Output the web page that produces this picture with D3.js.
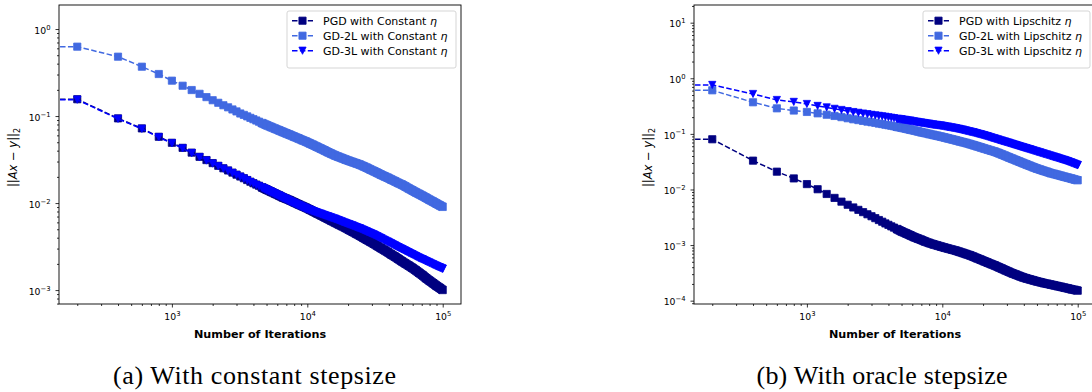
<!DOCTYPE html>
<html>
<head>
<meta charset="utf-8">
<script src="https://cdn.jsdelivr.net/npm/d3@7"></script>
<style>
  body { margin: 0; background: #fff; }
  svg { display: block; }
  text { font-family: "DejaVu Sans", sans-serif; fill: #000; }
</style>
</head>
<body>
<svg id="chart" width="1092" height="392"></svg>
<script>
// iterations (0 = starting point, pushed off to the left by the log axis)
const iterations = [0, 200, 400, 600, 800, 1000, 1200, 1400, 1600, 1800, 2000,
  2200, 2400, 2600, 2800, 3000, 3200, 3400, 3600, 3800, 4000, 4200, 4400, 4600,
  5000, 5400, 5800, 6200, 6600, 7000, 7400,
  8000, 8600, 9200, 9800, 10400, 11000,
  11800, 12600, 13400, 14200, 15000,
  16000, 17000, 18000, 19200, 20400, 21600,
  23000, 24400, 26000, 27600, 29200,
  31000, 33000, 35000, 37200, 39400, 41800, 44400, 47000, 50000,
  53000, 56200, 59600, 63200, 67000, 71000, 75400, 80000, 84800, 90000, 95000, 100000];

// (a) constant stepsize
const pgdConst = [0.2, 0.156, 0.0940, 0.0721, 0.0578, 0.0493, 0.0431, 0.0380, 0.0340, 0.0312, 0.0288,
  0.0268, 0.0251, 0.0237, 0.0224, 0.0212, 0.0202, 0.0193, 0.0184, 0.0176, 0.0169, 0.0163, 0.0158, 0.0152,
  0.0143, 0.0135, 0.0128, 0.0122, 0.0116, 0.0112, 0.0108,
  0.0102, 0.00968, 0.00923, 0.00883, 0.00843, 0.00807,
  0.00762, 0.00724, 0.00689, 0.00658, 0.00630,
  0.00598, 0.00570, 0.00545, 0.00518, 0.00491, 0.00469,
  0.00444, 0.00423, 0.00399, 0.00378, 0.00360,
  0.00341, 0.00321, 0.00304, 0.00287, 0.00272, 0.00256, 0.00242, 0.00228, 0.00214,
  0.00202, 0.00191, 0.00180, 0.00169, 0.00158, 0.00148, 0.00137, 0.00128, 0.00120, 0.00112, 0.00106, 0.00100];
const gd2lConst = [1.32, 0.627, 0.481, 0.369, 0.304, 0.255, 0.223, 0.199, 0.180, 0.165, 0.152,
  0.142, 0.133, 0.126, 0.119, 0.113, 0.107, 0.103, 0.0991, 0.0953, 0.0920, 0.0889, 0.0861, 0.0834,
  0.0787, 0.0748, 0.0714, 0.0684, 0.0656, 0.0632, 0.0610,
  0.0579, 0.0553, 0.0528, 0.0508, 0.0486, 0.0467,
  0.0443, 0.0422, 0.0403, 0.0385, 0.0370,
  0.0353, 0.0340, 0.0329, 0.0316, 0.0305, 0.0296,
  0.0286, 0.0277, 0.0265, 0.0254, 0.0243,
  0.0233, 0.0222, 0.0212, 0.0203, 0.0195, 0.0186, 0.0178, 0.0170, 0.0163,
  0.0155, 0.0147, 0.0140, 0.0133, 0.0127, 0.0121, 0.0115, 0.0109, 0.0104, 0.00986, 0.00942, 0.00902];
const gd3lConst = [0.2, 0.154, 0.0928, 0.0712, 0.0570, 0.0486, 0.0425, 0.0375, 0.0336, 0.0308, 0.0284,
  0.0265, 0.0248, 0.0234, 0.0221, 0.0210, 0.0200, 0.0191, 0.0182, 0.0174, 0.0167, 0.0161, 0.0156, 0.0151,
  0.0142, 0.0134, 0.0127, 0.0121, 0.0115, 0.0110, 0.0105,
  0.00995, 0.00946, 0.00902, 0.00863, 0.00834, 0.00807,
  0.00776, 0.00750, 0.00724, 0.00702, 0.00681,
  0.00658, 0.00634, 0.00612, 0.00589, 0.00568, 0.00550,
  0.00528, 0.00511, 0.00489, 0.00469, 0.00451,
  0.00433, 0.00412, 0.00394, 0.00374, 0.00358, 0.00341, 0.00325, 0.00310, 0.00296,
  0.00282, 0.00269, 0.00257, 0.00245, 0.00234, 0.00225, 0.00215, 0.00206, 0.00197, 0.00189, 0.00182, 0.00176];

// (b) oracle (Lipschitz) stepsize
const pgdLip = [0.09, 0.0800, 0.0330, 0.0209, 0.0158, 0.0125, 0.0101, 0.00830, 0.00705, 0.00604, 0.00531,
  0.00475, 0.00430, 0.00391, 0.00358, 0.00330, 0.00305, 0.00282, 0.00263, 0.00245, 0.00231, 0.00217, 0.00206, 0.00195,
  0.00176, 0.00162, 0.00150, 0.00139, 0.00131, 0.00124, 0.00117,
  0.00109, 0.00103, 0.000982, 0.000938, 0.000900, 0.000867,
  0.000828, 0.000794, 0.000755, 0.000721, 0.000690,
  0.000655, 0.000617, 0.000582, 0.000546, 0.000513, 0.000485,
  0.000455, 0.000430, 0.000401, 0.000376, 0.000353,
  0.000331, 0.000310, 0.000294, 0.000277, 0.000263, 0.000251, 0.000241, 0.000232, 0.000222,
  0.000215, 0.000207, 0.000201, 0.000195, 0.000189, 0.000183, 0.000177, 0.000171, 0.000166, 0.000160, 0.000156, 0.000151];
const gd2lLip = [0.62, 0.608, 0.370, 0.288, 0.263, 0.248, 0.234, 0.221, 0.210, 0.200, 0.191,
  0.183, 0.177, 0.171, 0.166, 0.162, 0.158, 0.153, 0.150, 0.146, 0.143, 0.140, 0.137, 0.134,
  0.129, 0.124, 0.119, 0.115, 0.111, 0.107, 0.104,
  0.0995, 0.0957, 0.0923, 0.0891, 0.0861, 0.0832,
  0.0798, 0.0767, 0.0736, 0.0710, 0.0686,
  0.0656, 0.0628, 0.0601, 0.0573, 0.0546, 0.0524,
  0.0499, 0.0479, 0.0452, 0.0426, 0.0403,
  0.0379, 0.0356, 0.0336, 0.0316, 0.0299, 0.0282, 0.0266, 0.0252, 0.0238,
  0.0227, 0.0216, 0.0207, 0.0197, 0.0190, 0.0183, 0.0176, 0.0169, 0.0163, 0.0157, 0.0151, 0.0146];
const gd3lLip = [11.8, 0.759, 0.522, 0.407, 0.376, 0.345, 0.318, 0.299, 0.282, 0.269, 0.257,
  0.247, 0.239, 0.232, 0.226, 0.220, 0.215, 0.211, 0.207, 0.203, 0.199, 0.195, 0.192, 0.188,
  0.182, 0.177, 0.172, 0.167, 0.163, 0.159, 0.156,
  0.151, 0.147, 0.144, 0.141, 0.137, 0.134,
  0.130, 0.126, 0.122, 0.118, 0.114,
  0.110, 0.106, 0.102, 0.0979, 0.0938, 0.0900,
  0.0857, 0.0822, 0.0783, 0.0748, 0.0718,
  0.0687, 0.0655, 0.0627, 0.0598, 0.0574, 0.0548, 0.0525, 0.0502, 0.0480,
  0.0459, 0.0439, 0.0421, 0.0402, 0.0385, 0.0369, 0.0352, 0.0337, 0.0320, 0.0303, 0.0288, 0.0275];

// axis limits and major ticks
const xLimits = [146.6, 136500];
const xMajorTicks = [1e3, 1e4, 1e5];
const constYLimits = [6.92e-4, 1.888];
const constYTicks = [1e-3, 1e-2, 1e-1, 1e0];
const lipYLimits = [8.71e-5, 20.8];
const lipYTicks = [1e-4, 1e-3, 1e-2, 1e-1, 1e0, 1e1];

const seriesNames = ["PGD", "GD-2L", "GD-3L"];
const seriesColors = ["#000080", "#4169e1", "#0000ff"];
const seriesMarkers = ["square", "square", "triangle"];

const svg = d3.select("#chart");
const plotTop = 5, plotW = 402, plotH = 299;
const markerSize = 7.2;
const denseFrom = 4600; // beyond this the markers (one every 200 its) merge into a solid band

const panels = [
  { left: 59, yLimits: constYLimits, yTicks: constYTicks, values: [pgdConst, gd2lConst, gd3lConst],
    suffix: "with Constant ", legendX: 287, legendW: 169, ylabelX: 13.3,
    caption: "(a) With constant stepsize", captionX: 254.5, captionW: 283 },
  { left: 694, yLimits: lipYLimits, yTicks: lipYTicks, values: [pgdLip, gd2lLip, gd3lLip],
    suffix: "with Lipschitz ", legendX: 923, legendW: 167, ylabelX: 648,
    caption: "(b) With oracle stepsize", captionX: 882, captionW: 251 }
];

const markerPath = (kind, s) => kind === "square"
  ? `M${-s / 2},${-s / 2}h${s}v${s}h${-s}Z`
  : `M${-s / 2},${-s / 2}L${s / 2},${-s / 2}L0,${s / 2}Z`;

// "10" plus superscript exponent, like matplotlib's log labels
function powerLabel(sel) {
  sel.each(function (d) {
    const e = Math.round(Math.log10(d));
    const t = d3.select(this).text(null);
    t.append("tspan").text("10");
    t.append("tspan").attr("dy", -4.2).style("font-size", "6.8px")
      .text(e < 0 ? "\u2212" + (-e) : String(e));
  });
}

panels.forEach((p, pi) => {
  const g = svg.append("g").attr("transform", `translate(${p.left},${plotTop})`);
  const x = d3.scaleLog().domain(xLimits).range([0, plotW]);
  const y = d3.scaleLog().domain(p.yLimits).range([plotH, 0]);
  const xAt = it => x(Math.max(it, 1e-300)); // iteration 0 clipped far left

  // minor ticks
  const xMinor = x.ticks().filter(v => !xMajorTicks.includes(v));
  const yMinor = y.ticks().filter(v => !p.yTicks.some(t => Math.abs(t - v) / t < 1e-6));
  g.append("g").attr("transform", `translate(0,${plotH})`)
    .call(d3.axisBottom(x).tickValues(xMinor).tickSize(2).tickSizeOuter(0).tickFormat(""));
  g.append("g")
    .call(d3.axisLeft(y).tickValues(yMinor).tickSize(2).tickSizeOuter(0).tickFormat(""));

  // major ticks
  const gx = g.append("g").attr("transform", `translate(0,${plotH})`)
    .call(d3.axisBottom(x).tickValues(xMajorTicks).tickSize(3.5).tickPadding(3.5).tickSizeOuter(0));
  gx.selectAll(".tick text").attr("dy", "0.95em").style("font-size", "9.3px").call(powerLabel);
  const gy = g.append("g")
    .call(d3.axisLeft(y).tickValues(p.yTicks).tickSize(3.5).tickPadding(5).tickSizeOuter(0));
  gy.selectAll(".tick text").attr("dy", "0.45em").style("font-size", "9.3px").call(powerLabel);
  g.selectAll(".domain").remove();
  g.selectAll(".tick line").attr("stroke", "#000").attr("stroke-width", 0.8);

  // data
  const clipId = "clip" + pi;
  g.append("clipPath").attr("id", clipId)
    .append("rect").attr("width", plotW).attr("height", plotH);
  const plot = g.append("g").attr("clip-path", `url(#${clipId})`);
  const line = d3.line().x(d => xAt(d.it)).y(d => y(d.v));
  const h = markerSize / 2;

  p.values.forEach((vals, si) => {
    const pts = iterations.map((it, i) => ({ it, v: vals[i] }));
    const color = seriesColors[si];
    plot.append("path").datum(pts)
      .attr("d", line)
      .attr("fill", "none")
      .attr("stroke", color)
      .attr("stroke-width", 1.5)
      .attr("stroke-dasharray", "5.5,2.4");

    // swept-marker band over the dense part of the run
    const dense = pts.filter(d => d.it >= denseFrom);
    const lowShift = seriesMarkers[si] === "square" ? -h : 0;
    const upper = dense.map(d => [xAt(d.it) + h, y(d.v) - h]);
    const lower = dense.map(d => [xAt(d.it) + lowShift, y(d.v) + h]).reverse();
    plot.append("path")
      .attr("d", "M" + upper.concat(lower).map(q => q.join(",")).join("L") + "Z")
      .attr("fill", color).attr("stroke", color).attr("stroke-width", 0.8)
      .attr("stroke-linejoin", "round");

    plot.selectAll(null).data(pts.filter(d => d.it > 0)).enter().append("path")
      .attr("d", markerPath(seriesMarkers[si], markerSize))
      .attr("transform", d => `translate(${xAt(d.it)},${y(d.v)})`)
      .attr("fill", color)
      .attr("stroke", color)
      .attr("stroke-width", 0.8);
  });

  // frame
  g.append("rect").attr("width", plotW).attr("height", plotH)
    .attr("fill", "none").attr("stroke", "#000").attr("stroke-width", 0.9);

  // axis labels
  svg.append("text")
    .attr("x", p.left + plotW / 2).attr("y", 337.5)
    .attr("text-anchor", "middle")
    .style("font-size", "11.2px").style("font-weight", "bold")
    .text("Number of Iterations");

  const yl = svg.append("text")
    .attr("transform", `translate(${p.ylabelX + 4},${plotTop + plotH / 2 + 3}) rotate(-90)`)
    .attr("text-anchor", "middle")
    .style("font-size", "11.5px");
  yl.append("tspan").text("||");
  yl.append("tspan").style("font-style", "italic").text("Ax");
  yl.append("tspan").text(" \u2212 ");
  yl.append("tspan").style("font-style", "italic").text("y");
  yl.append("tspan").text("||");
  yl.append("tspan").attr("dy", 2.5).style("font-size", "8px").text("2");

  // legend
  const lg = svg.append("g").attr("transform", `translate(${p.legendX},11)`);
  lg.append("rect").attr("width", p.legendW).attr("height", 57).attr("rx", 2)
    .attr("fill", "#fff").attr("fill-opacity", 0.8)
    .attr("stroke", "#d0d0d0").attr("stroke-width", 0.9);
  seriesNames.forEach((name, si) => {
    const row = lg.append("g").attr("transform", `translate(0,${9.7 + si * 15})`);
    row.append("line").attr("x1", 5).attr("x2", 26)
      .attr("stroke", seriesColors[si]).attr("stroke-width", 1.5)
      .attr("stroke-dasharray", "5.5,2.4");
    row.append("path").attr("d", markerPath(seriesMarkers[si], markerSize))
      .attr("transform", "translate(15.5,0)")
      .attr("fill", seriesColors[si]).attr("stroke", seriesColors[si]).attr("stroke-width", 0.8);
    const t = row.append("text").attr("x", 36).attr("y", 4).style("font-size", "11px");
    t.append("tspan").text(name + " " + p.suffix);
    t.append("tspan").style("font-style", "italic").text("\u03b7");
  });

  // caption
  svg.append("text")
    .attr("x", p.captionX).attr("y", 384)
    .attr("text-anchor", "middle")
    .attr("textLength", p.captionW).attr("lengthAdjust", "spacing")
    .style("font-family", "'Liberation Serif', serif").style("font-size", "26px")
    .text(p.caption);
});
</script>
</body>
</html>
